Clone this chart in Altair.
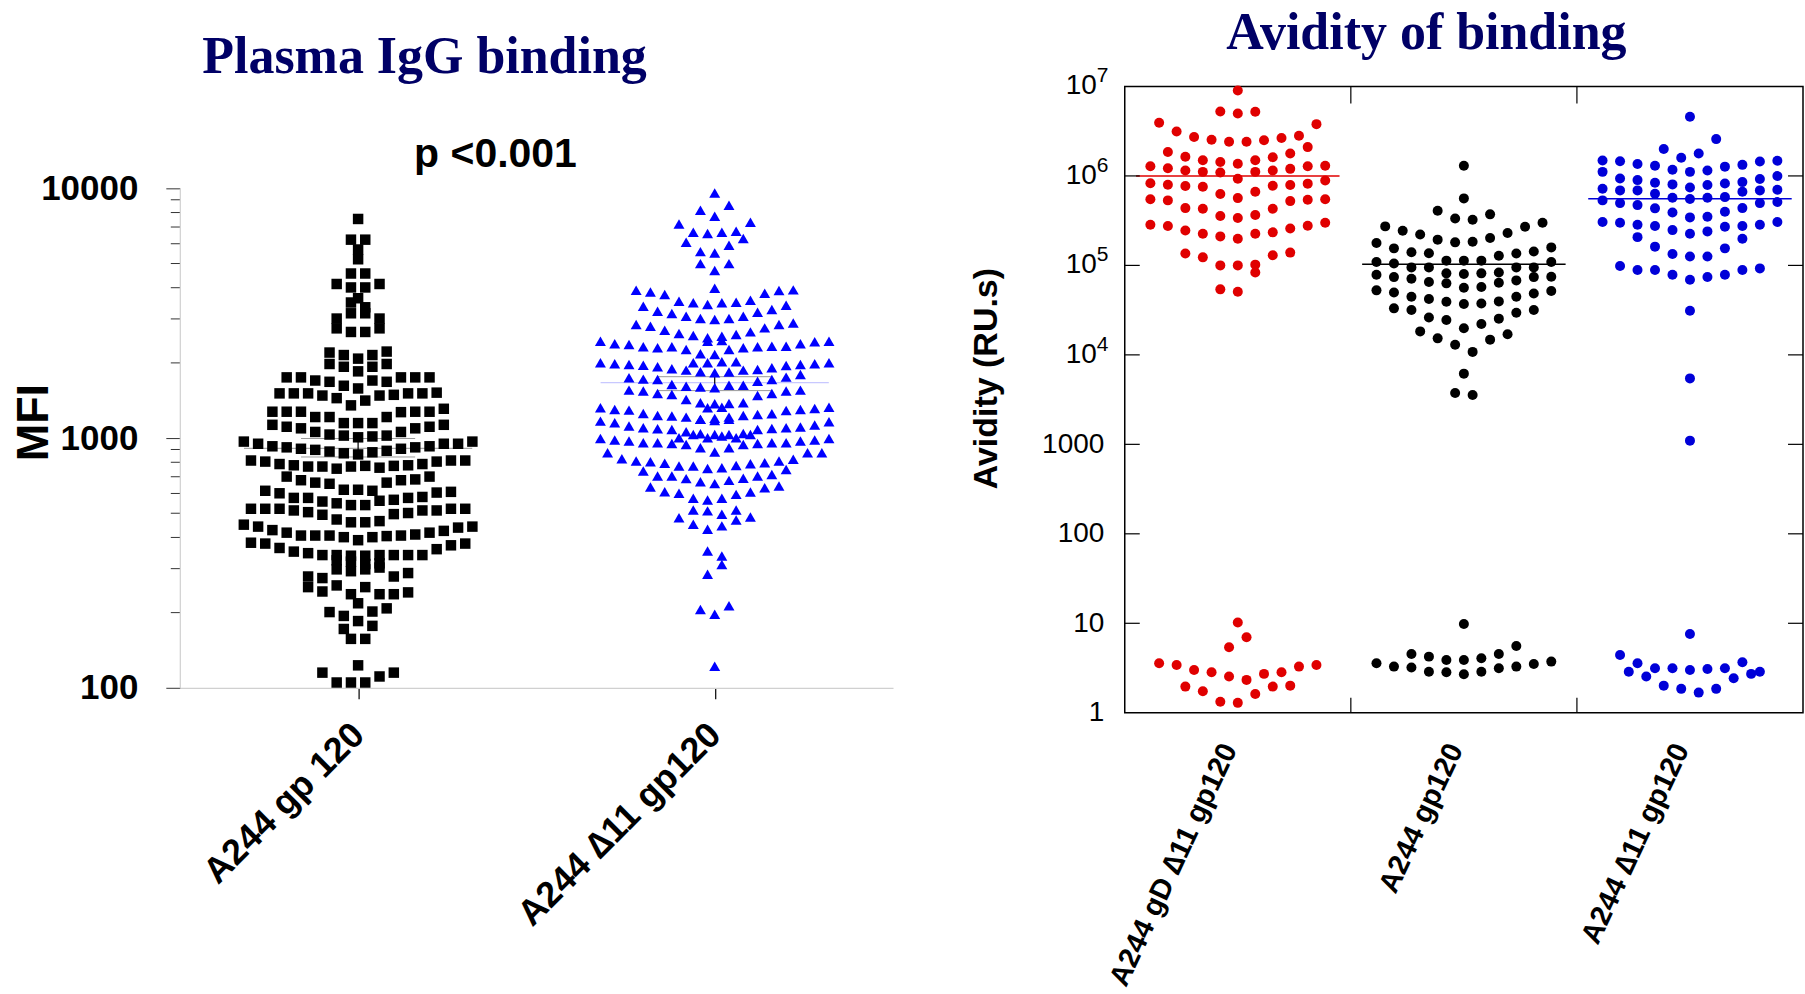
import altair as alt
import pandas as pd

# ---------------------------------------------------------------- data
LEFT_TITLE = "Plasma IgG binding"
RIGHT_TITLE = "Avidity of binding"
P_TEXT = "p <0.001"
LEFT_CATS = ["A244 gp 120", "A244 \u220611 gp120"]
LEFT_Y_TITLE = "MFI"
LEFT_TICKS = [100, 1000, 10000]
LEFT_MINOR = [200, 300, 400, 500, 600, 700, 800, 900,
              2000, 3000, 4000, 5000, 6000, 7000, 8000, 9000]

# rows of the dot plot, top to bottom, each row listed left to right
LEFT_BLACK_ROWS = [
    [7540], [6230, 6230], [5690], [5200], [4560, 4560],
    [4140, 4010, 4010, 4140], [3630], [3490, 3340],
    [3010, 3160, 3160, 3010], [2750, 2660, 2660, 2750],
    [2200, 2150, 2080, 2150, 2220], [1980, 1930, 1850, 1930, 1980],
    [1750, 1750, 1700, 1680, 1620, 1580, 1700, 1680, 1750, 1750, 1750],
    [1510, 1510, 1510, 1480, 1445, 1352, 1413, 1480, 1490, 1510, 1510, 1520],
    [1275, 1275, 1275, 1214, 1214, 1148, 1148, 1148, 1214, 1270, 1275, 1275, 1310],
    [1130, 1110, 1094, 1058, 1033, 1023, 1007, 1015, 1023, 1058, 1094, 1110, 1130],
    [968, 949, 927, 918, 906, 897, 883, 869, 860, 877, 889, 906, 918, 927, 949, 949, 968],
    [813, 805, 787, 778, 769, 769, 754, 769, 774, 761, 774, 778, 787, 805, 813, 813],
    [701, 678, 663, 656, 621, 621, 615, 663, 678, 683, 701],
    [615, 601, 576, 576, 557, 548, 539, 539, 561, 566, 576, 581, 605, 609],
    [521, 521, 521, 513, 505, 493, 472, 460, 460, 465, 496, 501, 513, 513, 521, 521],
    [450, 442, 428, 418, 407, 407, 407, 401, 390, 401, 405, 407, 411, 418, 425, 438, 442],
    [381, 378, 363, 351, 346, 340, 340, 338, 338, 340, 340, 340, 340, 359, 372, 378],
    [324, 320, 313, 315],
    [279, 275, 298, 293, 298, 303, 279, 288],
    [253, 243, 257, 237, 253, 237, 237, 241],
    [201, 194, 218, 202, 208], [172, 185, 177], [157, 157], [123],
    [115, 105, 105, 105, 111, 115],
]
LEFT_BLUE_ROWS = [
    [9580], [8166, 7727, 8551],
    [7194, 6668, 6588, 6668, 6730, 7311],
    [6081, 5580, 5512, 5916, 6292], [4995, 4685, 4995], [3981],
    [3909, 3849, 3756, 3532, 3479, 3426, 3479, 3499, 3565, 3802, 3897, 3921],
    [3373, 3221, 3153, 3076, 3011, 2983, 3011, 3076, 3192, 3271, 3404],
    [2848, 2805, 2704, 2622, 2574, 2520, 2559, 2598, 2662, 2762, 2848, 2892],
    [2443, 2459],
    [2443, 2384, 2370, 2319, 2298, 2319, 2263, 2175, 2161, 2263, 2298, 2319, 2333, 2333, 2384, 2428, 2443],
    [2001, 2001, 2020, 2020],
    [2001, 1983, 1971, 1959, 1929, 1894, 1871, 1842, 1826, 1837, 1871, 1882, 1911, 1953, 1971, 1983, 2001],
    [1743, 1722, 1717, 1639, 1614, 1600, 1590, 1629, 1629, 1690, 1717, 1754, 1798],
    [1556, 1542, 1509, 1495, 1428, 1384, 1372, 1376, 1384, 1482, 1509, 1542, 1556],
    [1322, 1330],
    [1322, 1302, 1294, 1255, 1232, 1225, 1213, 1188, 1177, 1213, 1232, 1243, 1251, 1290, 1302, 1314, 1330],
    [1188, 1199, 1188],
    [1169, 1152, 1117, 1100, 1090, 1083, 1060, 1040, 1034, 1034, 1044, 1083, 1093, 1100, 1107, 1127, 1162],
    [1003, 1034, 1003, 1019, 1003, 1034],
    [997, 982, 973, 958, 958, 952, 943, 915, 879, 915, 943, 952, 958, 958, 973, 982, 997],
    [874, 827, 809, 804, 792, 773, 773, 756, 761, 777, 789, 797, 809, 822, 874, 874],
    [738, 705, 705, 688, 669, 657, 677, 690, 705, 715, 749],
    [637, 610, 601, 574, 565, 574, 595, 608, 633, 643],
    [515, 511, 495, 515],
    [480, 452, 431, 445, 470, 483],
    [353, 337], [285, 312], [206, 197, 213], [122],
]
LEFT_MEDIAN = [910, 1666]
LEFT_CI_LOW = [840, 1549]
LEFT_CI_HIGH = [996, 1761]

RIGHT_CATS = ["A244 gD \u220611 gp120", "A244 gp120", "A244 \u220611 gp120"]
RIGHT_Y_TITLE = "Avidity (RU.s)"
RIGHT_TICKS = [1, 10, 100, 1000, 1e4, 1e5, 1e6, 1e7]
RIGHT_PLAIN_TICKS = [1, 10, 100, 1000]          # written out in full
RIGHT_POW_TICKS = [1e4, 1e5, 1e6, 1e7]          # written as 10 with exponent
RIGHT_POW_BASE = ["10", "10", "10", "10"]
RIGHT_POW_EXP = ["4", "5", "6", "7"]
RIGHT_RED_ROWS = [
    [9.02e6], [5.26e6, 4.99e6, 5.21e6],
    [3.93e6, 3.14e6, 2.72e6, 2.54e6, 2.41e6, 2.41e6, 2.51e6, 2.65e6, 2.81e6, 3.79e6],
    [1.85e6, 1.64e6, 1.50e6, 1.43e6, 1.37e6, 1.50e6, 1.62e6, 1.78e6, 2.10e6],
    [1.28e6, 1.22e6, 1.15e6, 1.11e6, 1.09e6, 9.3e5, 1.11e6, 1.15e6, 1.20e6, 1.28e6, 1.30e6],
    [8.3e5, 7.96e5, 7.7e5, 7.57e5, 6.27e5, 5.65e5, 6.65e5, 7.77e5, 7.9e5, 8.2e5, 8.9e5],
    [5.5e5, 5.33e5, 4.37e5, 4.3e5, 3.56e5, 3.38e5, 3.65e5, 4.3e5, 5.23e5, 5.42e5, 5.5e5],
    [2.85e5, 2.75e5, 2.46e5, 2.26e5, 2.11e5, 1.99e5, 2.26e5, 2.34e5, 2.59e5, 2.77e5, 3.0e5],
    [1.36e5, 1.23e5, 1.0e5, 1.0e5, 1.02e5, 1.30e5, 1.39e5],
    [5.4e4, 5.08e4, 8.35e4],
    [10.2], [5.4, 6.98],
    [3.57, 3.42, 3.01, 2.84, 2.54, 2.33, 2.72, 2.84, 3.28, 3.42],
    [1.96, 1.74, 1.33, 1.29, 1.62, 1.96, 2.01],
]
RIGHT_BLACK_ROWS = [
    [1.30e6], [5.61e5], [4.08e5, 3.35e5, 3.24e5, 3.72e5],
    [2.73e5, 2.44e5, 2.22e5, 1.94e5, 1.81e5, 1.84e5, 2.02e5, 2.30e5, 2.71e5, 3.0e5],
    [1.78e5, 1.55e5, 1.40e5, 1.37e5, 1.13e5, 1.13e5, 1.13e5, 1.28e5, 1.36e5, 1.43e5, 1.59e5],
    [1.09e5, 1.05e5, 9.5e4, 9.5e4, 8.15e4, 8.0e4, 8.15e4, 8.35e4, 9.5e4, 9.5e4, 1.09e5],
    [7.87e4, 7.4e4, 7.1e4, 6.51e4, 6.3e4, 5.63e4, 5.73e4, 6.4e4, 6.8e4, 7.4e4, 7.47e4],
    [5.26e4, 4.99e4, 4.47e4, 4.21e4, 3.93e4, 3.7e4, 3.76e4, 3.96e4, 4.47e4, 4.86e4, 5.17e4],
    [3.31e4, 3.17e4, 2.62e4, 2.45e4, 1.98e4, 2.21e4, 2.54e4, 2.96e4, 3.17e4],
    [1.83e4, 1.53e4, 1.30e4, 1.08e4, 1.48e4, 1.70e4],
    [6.17e3], [3.75e3, 3.56e3],
    [9.84],
    [3.57, 3.28, 4.54, 4.24, 3.89, 3.89, 4.06, 4.54, 5.58, 3.51, 3.73],
    [3.2, 2.88, 2.84, 2.69, 2.88, 3.14, 3.28],
]
RIGHT_BLUE_ROWS = [
    [4.58e6], [2.0e6, 1.60e6, 1.78e6, 2.58e6],
    [1.49e6, 1.46e6, 1.36e6, 1.30e6, 1.17e6, 1.11e6, 1.15e6, 1.27e6, 1.33e6, 1.45e6, 1.48e6],
    [1.11e6, 9.38e5, 8.98e5, 8.39e5, 8.04e5, 7.44e5, 7.9e5, 8.24e5, 8.53e5, 9.22e5, 9.96e5],
    [7.19e5, 6.89e5, 6.89e5, 6.32e5, 5.7e5, 5.51e5, 5.7e5, 5.8e5, 6.65e5, 6.89e5, 7.0e5],
    [5.33e5, 4.97e5, 4.72e5, 4.34e5, 3.91e5, 3.44e5, 3.5e5, 3.98e5, 4.37e5, 4.97e5, 5.1e5],
    [3.05e5, 3.0e5, 2.85e5, 2.75e5, 2.48e5, 2.26e5, 2.4e5, 2.7e5, 2.75e5, 2.85e5, 3.05e5],
    [2.07e5, 1.62e5, 1.34e5, 1.26e5, 1.26e5, 1.55e5, 1.99e5],
    [9.84e4, 8.87e4, 8.87e4, 7.87e4, 6.92e4, 7.41e4, 7.87e4, 8.87e4, 9.26e4],
    [3.11e4], [5.46e3], [1.1e3],
    [7.6],
    [4.43, 3.57, 3.14, 3.14, 3.01, 3.09, 3.14, 3.67, 2.88],
    [2.88, 2.54, 2.01, 1.85, 1.68, 1.85, 2.43, 2.72],
]
RIGHT_MEDIAN = [1.0e6, 1.03e5, 5.56e5]

# ---------------------------------------------------------------- layout helpers
W_L, H_L = 714, 602          # left plot (its y range uses the lower 500 px)
W_R, H_R = 679, 627
PAD_L, PAD_T = 179, 85       # left plot origin on the canvas
CANVAS_W, CANVAS_H = 1805, 994
GAP = 232
STEP_L = 14.3 / (W_L / 2)    # horizontal dot spacing in data units
STEP_R = 17.5 / (W_R / 3)


def swarm(rows, center, step):
    out = []
    for row in rows:
        n = len(row)
        for j, v in enumerate(row):
            out.append({"x": center + (j - (n - 1) / 2) * step, "value": v})
    return pd.DataFrame(out)


def q(s):
    return "'" + s.replace("'", "\\'") + "'"


def cat_expr(cats):
    # nested ternary: band i covers [i, i+1)
    expr = q(cats[-1])
    for i in range(len(cats) - 2, -1, -1):
        expr = f"datum.value < {i + 1} ? {q(cats[i])} : ({expr})"
    return expr


SANS = "Liberation Sans"
SERIF = "Liberation Serif"
NAVY = "#000066"
ONE = pd.DataFrame({"k": [0]})

# ---------------------------------------------------------------- left panel
xl = alt.Scale(domain=[0, 2], nice=False, zero=False)
yl = alt.Scale(type="log", domain=[100, 10000], range=[H_L, H_L - 500], nice=False)

black_df = swarm(LEFT_BLACK_ROWS, 0.5, STEP_L)
blue_df = swarm(LEFT_BLUE_ROWS, 1.5, STEP_L)

x_axis_left = alt.Axis(
    values=[0.5, 1.5], labelExpr=cat_expr(LEFT_CATS), title=None, grid=False,
    tickSize=11, tickColor="black", tickWidth=1.2,
    domainColor="#d0d0d0", domainWidth=1.2,
    labelAngle=-45, labelAlign="right", labelBaseline="middle", labelLimit=600,
    labelFont=SANS, labelFontWeight="bold", labelFontSize=36,
    labelColor="black", labelPadding=30)
y_axis_left = alt.Axis(
    values=LEFT_TICKS, format="d", grid=False,
    tickSize=14, tickColor="#333333", tickWidth=1,
    domainColor="#d0d0d0", domainWidth=1.2,
    labelFont=SANS, labelFontWeight="bold", labelFontSize=35,
    labelColor="black", labelPadding=28,
    title=LEFT_Y_TITLE, titleFont=SANS, titleFontWeight="bold",
    titleFontSize=45, titleColor="black",
    titleX=-146, titleY=336, titleAlign="center", titleBaseline="middle")

pts_black = alt.Chart(black_df).mark_point(
    shape="square", filled=True, size=110, color="black", opacity=1
).encode(
    x=alt.X("x:Q", scale=xl, axis=x_axis_left),
    y=alt.Y("value:Q", scale=yl, axis=y_axis_left),
)

pts_blue = alt.Chart(blue_df).mark_point(
    shape="triangle-up", filled=True, size=120, color="#0000ff", opacity=1
).encode(
    x=alt.X("x:Q", scale=xl, axis=x_axis_left),
    y=alt.Y("value:Q", scale=yl, axis=y_axis_left),
)

stat_df = pd.DataFrame({
    "c": [0.5, 1.5], "med": LEFT_MEDIAN, "lo": LEFT_CI_LOW, "hi": LEFT_CI_HIGH,
})
stat_df["m1"] = stat_df["c"] - 0.32
stat_df["m2"] = stat_df["c"] + 0.32
stat_df["c1"] = stat_df["c"] - 0.16
stat_df["c2"] = stat_df["c"] + 0.16
stat_df["col"] = ["#a8a8a8", "#c8c8ff"]

med_left = alt.Chart(stat_df).mark_rule(strokeWidth=1.2).encode(
    x=alt.X("m1:Q", scale=xl, axis=x_axis_left), x2="m2:Q",
    y=alt.Y("med:Q", scale=yl, axis=y_axis_left),
    color=alt.Color("col:N", scale=None, legend=None),
)
ci_lo = alt.Chart(stat_df).mark_rule(strokeWidth=1, color="#9a9a9a").encode(
    x=alt.X("c1:Q", scale=xl, axis=x_axis_left), x2="c2:Q",
    y=alt.Y("lo:Q", scale=yl, axis=y_axis_left),
)
ci_hi = alt.Chart(stat_df).mark_rule(strokeWidth=1, color="#9a9a9a").encode(
    x=alt.X("c1:Q", scale=xl, axis=x_axis_left), x2="c2:Q",
    y=alt.Y("hi:Q", scale=yl, axis=y_axis_left),
)
ci_v = alt.Chart(stat_df).mark_rule(strokeWidth=1.2, color="black").encode(
    x=alt.X("c:Q", scale=xl, axis=x_axis_left),
    y=alt.Y("lo:Q", scale=yl, axis=y_axis_left), y2="hi:Q",
)

minor_df = pd.DataFrame({"value": LEFT_MINOR})
minor = alt.Chart(minor_df).mark_rule(color="#333333", strokeWidth=1).encode(
    x=alt.value(-9), x2=alt.value(0),
    y=alt.Y("value:Q", scale=yl, axis=y_axis_left),
)

title_left = alt.Chart(pd.DataFrame({"t": [LEFT_TITLE]})).mark_text(
    font=SERIF, fontWeight="bold", fontSize=52, color=NAVY,
    align="center", baseline="alphabetic"
).encode(text="t:N", x=alt.value(245), y=alt.value(-13))

p_text = alt.Chart(pd.DataFrame({"t": [P_TEXT]})).mark_text(
    font=SANS, fontWeight="bold", fontSize=41, color="black",
    align="center", baseline="alphabetic"
).encode(text="t:N", x=alt.value(316), y=alt.value(81))

# invisible corner that pins the canvas origin (autosize "pad")
corner_tl = alt.Chart(ONE).mark_rule(opacity=0, strokeWidth=0.01).encode(
    x=alt.value(-PAD_L), x2=alt.value(-PAD_L + 1),
    y=alt.value(-PAD_T), y2=alt.value(-PAD_T + 1),
)

left = alt.layer(
    med_left, ci_lo, ci_hi, ci_v, pts_black, pts_blue, minor, title_left, p_text,
    corner_tl
).properties(width=W_L, height=H_L, view=alt.ViewBackground(stroke="transparent"))

# ---------------------------------------------------------------- right panel
xr = alt.Scale(domain=[0, 3], nice=False, zero=False)
yr = alt.Scale(type="log", domain=[1, 1e7], nice=False)

red_df = swarm(RIGHT_RED_ROWS, 0.5, STEP_R)
blk_df = swarm(RIGHT_BLACK_ROWS, 1.5, STEP_R)
blu_df = swarm(RIGHT_BLUE_ROWS, 2.5, STEP_R)

x_axis_right = alt.Axis(
    values=[0.5, 1.5, 2.5], labelExpr=cat_expr(RIGHT_CATS), title=None, grid=False,
    ticks=False, domain=False,
    labelAngle=-65, labelAlign="right", labelBaseline="middle", labelLimit=600,
    labelFont=SANS, labelFontWeight="bold", labelFontSize=29, labelOffset=-9,
    labelColor="black", labelPadding=32)
y_axis_right = alt.Axis(
    values=RIGHT_PLAIN_TICKS, format="d",
    grid=False, ticks=False, domain=False,
    labelFont=SANS, labelFontSize=28, labelColor="black", labelPadding=21,
    title=RIGHT_Y_TITLE, titleFont=SANS, titleFontWeight="bold",
    titleFontSize=34, titleColor="black",
    titleX=-138, titleY=292, titleAlign="center", titleBaseline="middle")

med_df = pd.DataFrame({"c": [0.5, 1.5, 2.5], "med": RIGHT_MEDIAN,
                       "col": ["#e00000", "black", "#0000d8"]})
med_df["m1"] = med_df["c"] - 0.45
med_df["m2"] = med_df["c"] + 0.45

med_right = alt.Chart(med_df).mark_rule(strokeWidth=1.5).encode(
    x=alt.X("m1:Q", scale=xr, axis=x_axis_right), x2="m2:Q",
    y=alt.Y("med:Q", scale=yr, axis=y_axis_right),
    color=alt.Color("col:N", scale=None, legend=None),
)


def dots(df, color):
    return alt.Chart(df).mark_circle(size=100, color=color, opacity=1).encode(
        x=alt.X("x:Q", scale=xr, axis=x_axis_right),
        y=alt.Y("value:Q", scale=yr, axis=y_axis_right),
    )


tick_df = pd.DataFrame({"value": RIGHT_TICKS[1:-1]})
ticks_l = alt.Chart(tick_df).mark_rule(color="black", strokeWidth=1.2).encode(
    x=alt.value(0), x2=alt.value(15),
    y=alt.Y("value:Q", scale=yr, axis=y_axis_right))
ticks_r = alt.Chart(tick_df).mark_rule(color="black", strokeWidth=1.2).encode(
    x=alt.value(W_R - 15), x2=alt.value(W_R),
    y=alt.Y("value:Q", scale=yr, axis=y_axis_right))

bound_df = pd.DataFrame({"b": [1, 2]})
ticks_t = alt.Chart(bound_df).mark_rule(color="black", strokeWidth=1.2).encode(
    x=alt.X("b:Q", scale=xr, axis=x_axis_right), y=alt.value(0), y2=alt.value(17))
ticks_b = alt.Chart(bound_df).mark_rule(color="black", strokeWidth=1.2).encode(
    x=alt.X("b:Q", scale=xr, axis=x_axis_right),
    y=alt.value(H_R - 15), y2=alt.value(H_R))

# power-of-ten tick labels: "10" plus a raised, smaller exponent
pow_df = pd.DataFrame({"value": RIGHT_POW_TICKS, "base": RIGHT_POW_BASE,
                       "exp": RIGHT_POW_EXP})
pow_base = alt.Chart(pow_df).mark_text(
    font=SANS, fontSize=28, color="black", align="right", baseline="middle"
).encode(text="base:N", x=alt.value(-28),
         y=alt.Y("value:Q", scale=yr, axis=y_axis_right))
pow_exp = alt.Chart(pow_df).mark_text(
    font=SANS, fontSize=21, color="black", align="left", baseline="middle", dy=-10
).encode(text="exp:N", x=alt.value(-28),
         y=alt.Y("value:Q", scale=yr, axis=y_axis_right))

title_right = alt.Chart(pd.DataFrame({"t": [RIGHT_TITLE]})).mark_text(
    font=SERIF, fontWeight="bold", fontSize=52, color=NAVY,
    align="center", baseline="alphabetic"
).encode(text="t:N", x=alt.value(302), y=alt.value(-37))

right_x0 = PAD_L + W_L + GAP
corner_br = alt.Chart(ONE).mark_rule(opacity=0, strokeWidth=0.01).encode(
    x=alt.value(CANVAS_W - right_x0 - 1), x2=alt.value(CANVAS_W - right_x0),
    y=alt.value(CANVAS_H - PAD_T - 1), y2=alt.value(CANVAS_H - PAD_T),
)

right = alt.layer(
    med_right, dots(red_df, "#e00000"), dots(blk_df, "black"),
    dots(blu_df, "#0000d8"), ticks_l, ticks_r, ticks_t, ticks_b,
    pow_base, pow_exp, title_right, corner_br
).properties(width=W_R, height=H_R,
             view=alt.ViewBackground(stroke="black", strokeWidth=1.5))

chart = alt.hconcat(left, right, spacing=GAP, bounds="flush").properties(
    padding=0,
    autosize=alt.AutoSizeParams(type="pad"),
    background="white",
)

chart.save("out.html", embed_options={"renderer": "svg", "actions": False})
